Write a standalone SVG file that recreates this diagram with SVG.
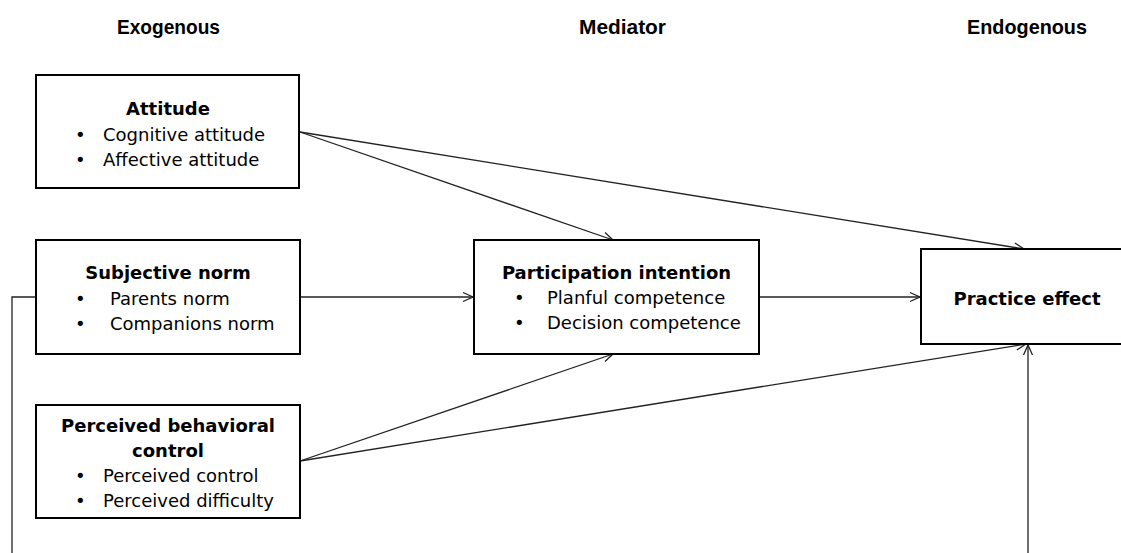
<svg xmlns="http://www.w3.org/2000/svg" width="1121" height="553" viewBox="0 0 1121 553">
<style>
.box{fill:#fff;stroke:#000;stroke-width:2}
.hdr{font-family:"Liberation Sans",sans-serif;font-weight:bold;font-size:21px;fill:#000}
.t{font-family:"DejaVu Sans",sans-serif;font-weight:bold;font-size:18px;fill:#000;text-anchor:middle}
.b{font-family:"DejaVu Sans",sans-serif;font-size:18px;fill:#000}
.c{fill:none;stroke:#222;stroke-width:1.3}
</style>
<defs>
<marker id="ah" markerUnits="userSpaceOnUse" markerWidth="12" markerHeight="12" refX="11" refY="5" orient="auto" viewBox="0 0 12 10">
<path d="M1,0.5 L11,5 L1,9.5" fill="none" stroke="#222" stroke-width="1.3"/>
</marker>
</defs>
<rect width="1121" height="553" fill="#fff"/>
<g id="headers">
<text class="hdr" x="117" y="34" textLength="103" lengthAdjust="spacingAndGlyphs">Exogenous</text>
<text class="hdr" x="579" y="34" textLength="87" lengthAdjust="spacingAndGlyphs">Mediator</text>
<text class="hdr" x="967" y="34" textLength="120" lengthAdjust="spacingAndGlyphs">Endogenous</text>
</g>
<g id="connectors">
<line class="c" x1="300" y1="132" x2="613" y2="240" marker-end="url(#ah)"/>
<line class="c" x1="300" y1="132" x2="1024" y2="249" marker-end="url(#ah)"/>
<line class="c" x1="300" y1="297" x2="473" y2="297" marker-end="url(#ah)"/>
<line class="c" x1="759" y1="297" x2="920" y2="297" marker-end="url(#ah)"/>
<line class="c" x1="300" y1="461" x2="613" y2="354" marker-end="url(#ah)"/>
<line class="c" x1="300" y1="461" x2="1026" y2="344" marker-end="url(#ah)"/>
<polyline class="c" points="36,297 12,297 12,556"/>
<line class="c" x1="1028" y1="556" x2="1028" y2="345" marker-end="url(#ah)"/>
</g>
<g id="attitude">
<rect class="box" x="36" y="75" width="263" height="113"/>
<text class="t" x="168" y="115">Attitude</text>
<text class="b" x="75" y="141">•</text><text class="b" x="103" y="141">Cognitive attitude</text>
<text class="b" x="75" y="166">•</text><text class="b" x="103" y="166">Affective attitude</text>
</g>
<g id="subjective-norm">
<rect class="box" x="36" y="240" width="264" height="114"/>
<text class="t" x="168" y="279">Subjective norm</text>
<text class="b" x="75" y="305">•</text><text class="b" x="110" y="305">Parents norm</text>
<text class="b" x="75" y="330">•</text><text class="b" x="110" y="330">Companions norm</text>
</g>
<g id="perceived-behavioral-control">
<rect class="box" x="36" y="405" width="264" height="113"/>
<text class="t" x="168" y="432">Perceived behavioral</text>
<text class="t" x="168" y="457">control</text>
<text class="b" x="75" y="482">•</text><text class="b" x="103" y="482">Perceived control</text>
<text class="b" x="75" y="507">•</text><text class="b" x="103" y="507">Perceived difficulty</text>
</g>
<g id="participation-intention">
<rect class="box" x="474" y="240" width="285" height="114"/>
<text class="t" x="616.5" y="279">Participation intention</text>
<text class="b" x="514" y="304">•</text><text class="b" x="547" y="304">Planful competence</text>
<text class="b" x="514" y="329">•</text><text class="b" x="547" y="329">Decision competence</text>
</g>
<g id="practice-effect">
<rect class="box" x="921" y="249" width="212" height="95"/>
<text class="t" x="1027" y="305">Practice effect</text>
</g>
</svg>
